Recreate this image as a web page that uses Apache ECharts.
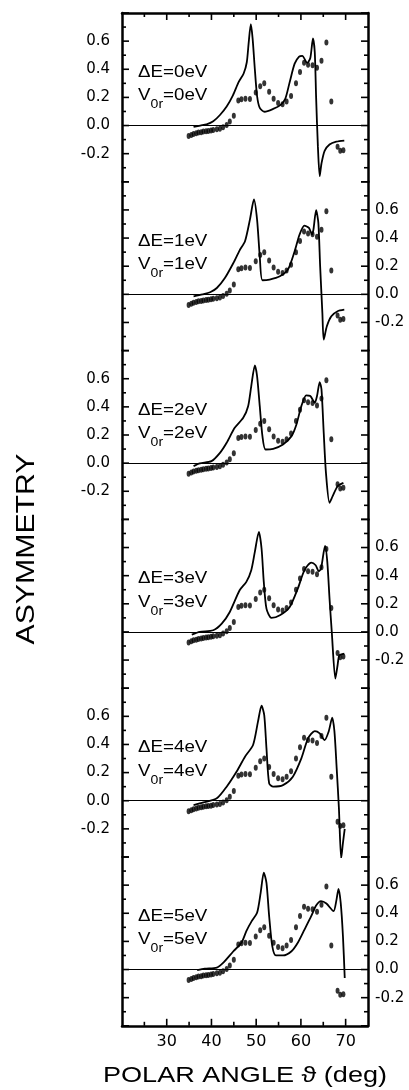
<!DOCTYPE html>
<html>
<head>
<meta charset="utf-8">
<script src="https://cdn.jsdelivr.net/npm/echarts@6/dist/echarts.min.js"></script>
<style>
  html, body { margin: 0; padding: 0; background: #fff; }
  #chart { width: 409px; height: 1090px; }
</style>
</head>
<body>
<div id="chart"></div>
<script>
// energy shift / inner potential for each panel (eV)
const panelEnergies = [0, 1, 2, 3, 4, 5];

// tick positions
const angleTicks = [25, 30, 35, 40, 45, 50, 55, 60, 65, 70];
const asymTicks = [-0.4, -0.3, -0.2, -0.1, 0, 0.1, 0.2, 0.3, 0.4, 0.5, 0.6, 0.7, 0.8];

// calculated asymmetry curves [polar angle, asymmetry]
const theory0 = [[36.0,-0.01],[37.5,0.0],[38.9,0.008],[40.4,0.03],[41.9,0.075],[43.4,0.135],[44.8,0.215],[46.1,0.31],[47.2,0.37],[47.9,0.45],[48.3,0.58],[48.8,0.72],[49.2,0.62],[49.7,0.40],[50.2,0.21],[50.8,0.125],[51.9,0.098],[53.8,0.118],[55.4,0.145],[56.5,0.19],[57.5,0.31],[58.6,0.44],[59.6,0.49],[60.3,0.495],[61.4,0.445],[62.1,0.48],[62.7,0.62],[63.1,0.52],[63.4,0.2],[63.8,-0.15],[64.2,-0.36],[64.6,-0.27],[65.3,-0.18],[66.4,-0.135],[67.9,-0.115],[69.7,-0.107]];
const theory1 = [[36.0,-0.014],[38.0,0.0],[39.7,0.015],[41.2,0.045],[43.0,0.116],[44.9,0.223],[46.3,0.313],[47.5,0.377],[48.6,0.531],[49.5,0.674],[50.2,0.531],[50.8,0.27],[51.4,0.1],[53.0,0.105],[55.3,0.128],[57.1,0.176],[58.6,0.306],[59.7,0.425],[60.8,0.488],[61.8,0.472],[62.5,0.425],[62.8,0.46],[63.4,0.598],[63.9,0.508],[64.3,0.2],[64.8,-0.133],[65.1,-0.322],[65.8,-0.227],[66.8,-0.156],[68.2,-0.12],[69.7,-0.109]];
const theory2 = [[36.0,-0.021],[37.4,-0.002],[40.0,0.014],[41.9,0.073],[43.4,0.145],[45.2,0.251],[47.1,0.322],[48.2,0.405],[48.9,0.548],[49.7,0.695],[50.2,0.619],[50.8,0.405],[51.4,0.192],[52.1,0.097],[53.8,0.102],[56.0,0.133],[57.9,0.192],[59.0,0.275],[60.1,0.405],[61.2,0.481],[62.1,0.477],[63.1,0.429],[63.6,0.477],[64.2,0.576],[64.6,0.524],[65.1,0.216],[65.6,-0.069],[66.4,-0.282],[67.1,-0.235],[68.2,-0.164],[69.5,-0.14]];
const theory3 = [[35.6,-0.019],[37.4,0.0],[40.4,0.012],[42.3,0.059],[44.1,0.142],[46.3,0.296],[47.8,0.356],[48.9,0.439],[49.7,0.569],[50.6,0.711],[51.2,0.593],[51.7,0.356],[52.3,0.166],[53.4,0.1],[55.3,0.119],[57.5,0.178],[59.3,0.308],[60.8,0.439],[62.3,0.493],[63.3,0.474],[64.0,0.431],[64.5,0.45],[65.4,0.612],[65.9,0.498],[66.4,0.237],[66.9,0.0],[67.7,-0.332],[68.2,-0.237],[68.6,-0.166],[69.7,-0.154]];
const theory4 = [[36.0,-0.031],[38.2,-0.012],[41.2,0.017],[43.4,0.1],[45.6,0.206],[47.5,0.313],[49.3,0.396],[50.4,0.562],[51.2,0.676],[51.8,0.609],[52.3,0.372],[52.9,0.123],[53.8,0.1],[56.0,0.111],[58.2,0.171],[60.1,0.301],[61.6,0.443],[63.1,0.495],[64.2,0.479],[65.3,0.431],[66.2,0.491],[67.0,0.59],[67.5,0.491],[68.0,0.23],[68.5,-0.055],[69.0,-0.41],[69.4,-0.3],[69.8,-0.2]];
const theory5 = [[36.8,-0.005],[38.5,0.006],[41.2,0.014],[42.6,0.047],[44.9,0.13],[46.7,0.19],[47.8,0.273],[49.0,0.344],[50.2,0.403],[51.0,0.545],[51.7,0.688],[52.3,0.616],[52.9,0.379],[53.6,0.166],[54.4,0.1],[56.0,0.1],[57.9,0.13],[59.3,0.19],[60.8,0.284],[62.3,0.379],[63.4,0.455],[64.5,0.486],[65.7,0.469],[67.3,0.415],[67.9,0.486],[68.4,0.574],[68.9,0.474],[69.4,0.237],[69.8,-0.06]];
const theoryCurves = [theory0, theory1, theory2, theory3, theory4, theory5];

// measured asymmetry (same data in every panel)
const measured = [[34.9,-0.075],[35.5,-0.067],[36.0,-0.06],[36.6,-0.055],[37.1,-0.05],[37.7,-0.047],[38.2,-0.043],[38.8,-0.04],[39.3,-0.038],[39.9,-0.035],[40.4,-0.031],[41.2,-0.027],[41.9,-0.023],[42.6,-0.012],[43.4,0.004],[44.1,0.028],[45.0,0.07],[46.0,0.178],[46.7,0.186],[47.6,0.19],[48.6,0.188],[49.9,0.235],[50.9,0.28],[51.8,0.30],[52.9,0.24],[53.9,0.19],[54.9,0.16],[55.9,0.152],[56.8,0.17],[57.8,0.21],[58.9,0.30],[59.8,0.38],[60.7,0.447],[61.6,0.432],[62.6,0.428],[63.6,0.41],[64.6,0.46],[65.7,0.59],[66.8,0.17],[68.2,-0.15],[68.8,-0.18],[69.5,-0.175]];

const chart = echarts.init(document.getElementById('chart'));
const font = 'DejaVu Sans';
const textFont = 'Liberation Sans';
const top0 = 13, panelH = 168.8, left = 122, width = 246;
const xMin = 20, xMax = 75, yMin = -0.4, yMax = 0.8;
const frame = { color: '#000', width: 2.5 };

const grid = [], xAxis = [], yAxis = [], series = [];

panelEnergies.forEach((e, i) => {
  grid.push({ left: left, top: top0 + panelH * i, width: width, height: panelH });
  const first = i === 0, last = i === 5;

  const xIdx = xAxis.length;
  xAxis.push({
    type: 'value', gridIndex: i, min: xMin, max: xMax, interval: 10,
    position: first ? 'top' : 'bottom',
    show: first || last,
    axisLine: { show: true, onZero: false, lineStyle: frame },
    axisTick: { show: false },
    axisLabel: {
      show: last, color: '#000', fontFamily: font, fontSize: 16, margin: 8,
      formatter: v => (v >= 30 && v <= 70 ? String(v) : '')
    },
    splitLine: { show: false }
  });

  const labelLeft = i % 2 === 0;
  const yIdx = yAxis.length;
  ['left', 'right'].forEach(pos => {
    const showLabel = (pos === 'left') === labelLeft;
    yAxis.push({
      type: 'value', gridIndex: i, min: yMin, max: yMax, interval: 0.2, position: pos,
      axisLine: { show: true, onZero: false, lineStyle: frame },
      axisTick: { show: false },
      axisLabel: {
        show: showLabel, color: '#000', fontFamily: font, fontSize: 15,
        margin: pos === 'left' ? 12 : 7,
        formatter: v => (v < -0.3 || v > 0.7 ? '' : v.toFixed(1))
      },
      splitLine: { show: false }
    });
  });

  series.push({
    type: 'line', xAxisIndex: xIdx, yAxisIndex: yIdx, data: theoryCurves[i],
    showSymbol: false, symbol: 'none', smooth: 0.25,
    lineStyle: { color: '#000', width: 1.8 },
    markLine: {
      silent: true, symbol: 'none', label: { show: false },
      lineStyle: { color: '#000', width: 1, type: 'solid' },
      data: [{ yAxis: 0 }]
    }
  });
  series.push({
    type: 'scatter', xAxisIndex: xIdx, yAxisIndex: yIdx, data: measured,
    symbol: 'circle', symbolSize: [4, 6],
    itemStyle: { color: '#000' }
  });
});

chart.setOption({
  animation: false,
  grid: grid, xAxis: xAxis, yAxis: yAxis, series: series
});

const graphic = [];
const tick = (x1, y1, x2, y2) => graphic.push({
  type: 'line', silent: true, z: 100,
  shape: { x1: x1, y1: y1, x2: x2, y2: y2 },
  style: { stroke: '#000', lineWidth: 1.6 }
});

// inward ticks on the frame, placed through each panel's scales
panelEnergies.forEach((e, i) => {
  asymTicks.forEach(v => {
    const len = Math.round(v * 10) % 2 === 0 ? 7 : 4;
    const pl = chart.convertToPixel({ gridIndex: i }, [xMin, v]);
    const pr = chart.convertToPixel({ gridIndex: i }, [xMax, v]);
    tick(pl[0], pl[1], pl[0] + len, pl[1]);
    tick(pr[0], pr[1], pr[0] - len, pr[1]);
  });
});
angleTicks.forEach(a => {
  const len = a % 10 === 0 ? 7 : 4;
  const pt = chart.convertToPixel({ gridIndex: 0 }, [a, yMax]);
  const pb = chart.convertToPixel({ gridIndex: 5 }, [a, yMin]);
  tick(pt[0], pt[1], pt[0], pt[1] + len);
  tick(pb[0], pb[1], pb[0], pb[1] - len);
});

// panel annotations
panelEnergies.forEach((e, i) => {
  const p1 = chart.convertToPixel({ gridIndex: i }, [23.6, 0.377]);
  const p2 = chart.convertToPixel({ gridIndex: i }, [23.6, 0.21]);
  graphic.push({
    type: 'text', x: p1[0], y: p1[1], scaleX: 1.17,
    style: { text: '\u0394E=' + e + 'eV', fontFamily: textFont, fontSize: 16, fill: '#000', verticalAlign: 'middle' }
  });
  graphic.push({
    type: 'text', x: p2[0], y: p2[1], scaleX: 1.17,
    style: {
      text: 'V{s|0r}=' + e + 'eV', fontFamily: textFont, fontSize: 16, fill: '#000',
      verticalAlign: 'middle', lineHeight: 30,
      rich: { s: { fontFamily: textFont, fontSize: 12, fill: '#000', verticalAlign: 'bottom', lineHeight: 14 } }
    }
  });
});
graphic.push({
  type: 'text', x: 27, y: 549, rotation: Math.PI / 2, scaleX: 1.21,
  style: { text: 'ASYMMETRY', fontFamily: textFont, fontSize: 25, fill: '#000', align: 'center', verticalAlign: 'middle' }
});
graphic.push({
  type: 'text', x: 245, y: 1076, scaleX: 1.23,
  style: { text: 'POLAR ANGLE \u03D1 (deg)', fontFamily: textFont, fontSize: 22, fill: '#000', align: 'center', verticalAlign: 'middle' }
});
chart.setOption({ graphic: graphic });
</script>
</body>
</html>
